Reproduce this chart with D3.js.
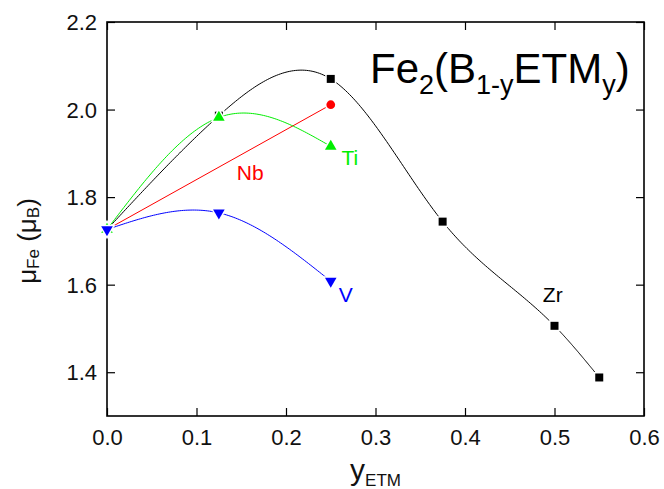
<!DOCTYPE html>
<html>
<head>
<meta charset="utf-8">
<script src="https://cdn.jsdelivr.net/npm/d3@7"></script>
<style>
  html, body { margin: 0; padding: 0; background: #fff; }
  svg { display: block; }
  text { font-family: "Liberation Sans", Arial, Helvetica, sans-serif; }
</style>
</head>
<body>
<div id="chart"></div>
<script>
// ---------------- data ----------------
const zrX = [0, 0.125, 0.25, 0.375, 0.5, 0.55];
const zrY = [1.726, 1.986, 2.070, 1.744, 1.506, 1.388];
const nbX = [0, 0.25];
const nbY = [1.726, 2.011];
const tiX = [0, 0.125, 0.25];
const tiY = [1.726, 1.982, 1.916];
const vX  = [0, 0.125, 0.25];
const vY  = [1.726, 1.764, 1.608];

const xTicksMajor = [0, 0.1, 0.2, 0.3, 0.4, 0.5, 0.6];
const xTicksMinor = [0.05, 0.15, 0.25, 0.35, 0.45, 0.55];
const yTicksMajor = [1.4, 1.6, 1.8, 2.0, 2.2];
const yTicksMinor = [1.3, 1.5, 1.7, 1.9, 2.1];

const seriesNames = ["Zr", "Nb", "Ti", "V"];
// label anchors in data units
const labelX = [0.487, 0.145, 0.262, 0.259];
const labelY = [1.560, 1.839, 1.873, 1.561];

// ---------------- layout ----------------
const W = 664, H = 489;
const margin = {left: 107, right: 20, top: 22, bottom: 73};
const x = d3.scaleLinear().domain([0, 0.6]).range([margin.left, W - margin.right]);
const y = d3.scaleLinear().domain([1.3, 2.2]).range([H - margin.bottom, margin.top]);

const svg = d3.select("#chart").append("svg").attr("width", W).attr("height", H);
svg.append("rect").attr("width", W).attr("height", H).attr("fill", "#fff");

// natural cubic spline y(x)
function splinePoints(xs, ys, perSeg) {
  const n = xs.length;
  if (n < 3) return xs.map((v, i) => [v, ys[i]]);
  const h = [], M = new Array(n).fill(0);
  for (let i = 0; i < n - 1; i++) h.push(xs[i + 1] - xs[i]);
  const a = [], b = [], c = [], d = [];
  for (let i = 1; i < n - 1; i++) {
    a.push(h[i - 1]); b.push(2 * (h[i - 1] + h[i])); c.push(h[i]);
    d.push(6 * ((ys[i + 1] - ys[i]) / h[i] - (ys[i] - ys[i - 1]) / h[i - 1]));
  }
  const m = d.length;
  for (let i = 1; i < m; i++) {
    const w = a[i] / b[i - 1];
    b[i] -= w * c[i - 1];
    d[i] -= w * d[i - 1];
  }
  const sol = new Array(m);
  sol[m - 1] = d[m - 1] / b[m - 1];
  for (let i = m - 2; i >= 0; i--) sol[i] = (d[i] - c[i] * sol[i + 1]) / b[i];
  for (let i = 0; i < m; i++) M[i + 1] = sol[i];
  const pts = [];
  for (let i = 0; i < n - 1; i++) {
    for (let k = 0; k < perSeg; k++) {
      const t = xs[i] + (h[i] * k) / perSeg;
      const A = (xs[i + 1] - t) / h[i], B = (t - xs[i]) / h[i];
      const val = A * ys[i] + B * ys[i + 1] +
        ((A * A * A - A) * M[i] + (B * B * B - B) * M[i + 1]) * h[i] * h[i] / 6;
      pts.push([t, val]);
    }
  }
  pts.push([xs[n - 1], ys[n - 1]]);
  return pts;
}

const line = d3.line().x(d => x(d[0])).y(d => y(d[1]));

// ---------------- axes ----------------
const gx = svg.append("g").attr("transform", `translate(0,${y.range()[0]})`);
gx.call(d3.axisBottom(x).tickValues(xTicksMinor).tickSize(-5).tickFormat(""));
gx.call(d3.axisBottom(x).tickValues(xTicksMajor).tickSizeInner(-8).tickSizeOuter(0)
  .tickPadding(13).tickFormat(d3.format(".1f")));
const gxt = svg.append("g").attr("transform", `translate(0,${y.range()[1]})`);
gxt.call(d3.axisTop(x).tickValues(xTicksMinor).tickSize(-5).tickFormat(""));
gxt.call(d3.axisTop(x).tickValues(xTicksMajor).tickSize(-8).tickFormat(""));

const gy = svg.append("g").attr("transform", `translate(${x.range()[0]},0)`);
gy.call(d3.axisLeft(y).tickValues(yTicksMinor).tickSize(-5).tickFormat(""));
gy.call(d3.axisLeft(y).tickValues(yTicksMajor).tickSizeInner(-8).tickSizeOuter(0)
  .tickPadding(10).tickFormat(d3.format(".1f")));
const gyr = svg.append("g").attr("transform", `translate(${x.range()[1]},0)`);
gyr.call(d3.axisRight(y).tickValues(yTicksMinor).tickSize(-5).tickFormat(""));
gyr.call(d3.axisRight(y).tickValues(yTicksMajor).tickSize(-8).tickFormat(""));

svg.selectAll(".domain").remove();
svg.selectAll(".tick line").attr("stroke", "#000").attr("stroke-width", 1.2);
svg.selectAll(".tick text").attr("font-size", 22).attr("fill", "#111")
  .style("font-family", '"Liberation Sans", Arial, sans-serif');
gy.selectAll(".tick text").attr("dy", "0.35em");

svg.append("rect")
  .attr("x", x.range()[0]).attr("y", y.range()[1])
  .attr("width", x.range()[1] - x.range()[0]).attr("height", y.range()[0] - y.range()[1])
  .attr("fill", "none").attr("stroke", "#000").attr("stroke-width", 1.6);

// ---------------- series ----------------
const series = [
  {xs: zrX, ys: zrY, color: "#000000", sym: "square"},
  {xs: nbX, ys: nbY, color: "#ff0000", sym: "circle"},
  {xs: tiX, ys: tiY, color: "#00ee00", sym: "up"},
  {xs: vX,  ys: vY,  color: "#0000ff", sym: "down"}
];

function markerPath(sym) {
  if (sym === "square") return d3.symbol(d3.symbolSquare, 64)();
  if (sym === "circle") return d3.symbol(d3.symbolCircle, 60)();
  return d3.symbol(d3.symbolTriangle, 58)();
}

series.forEach(s => {
  svg.append("path")
    .attr("d", line(splinePoints(s.xs, s.ys, 60)))
    .attr("fill", "none").attr("stroke", s.color).attr("stroke-width", 1);
  const pts = s.xs.map((v, i) => [v, s.ys[i]]);
  const g = svg.append("g");
  g.selectAll("path").data(pts).enter().append("path")
    .attr("d", markerPath(s.sym))
    .attr("transform", d => `translate(${x(d[0])},${y(d[1])})` + (s.sym === "down" ? " rotate(180)" : ""))
    .attr("fill", s.color)
    .attr("stroke", "#fff").attr("stroke-width", 3)
    .attr("paint-order", "stroke");
});

// series labels
seriesNames.forEach((nm, i) => {
  svg.append("text")
    .attr("x", x(labelX[i])).attr("y", y(labelY[i]))
    .attr("font-size", 21).attr("fill", series[i].color)
    .text(nm);
});

// title
const title = svg.append("text").attr("x", 370).attr("y", 83).attr("font-size", 42).attr("fill", "#000");
title.append("tspan").text("Fe");
title.append("tspan").attr("font-size", 27).attr("dy", 11).text("2");
title.append("tspan").attr("dy", -11).text("(B");
title.append("tspan").attr("font-size", 27).attr("dy", 11).text("1-y");
title.append("tspan").attr("dy", -11).text("ETM");
title.append("tspan").attr("font-size", 27).attr("dy", 11).text("y");
title.append("tspan").attr("dy", -11).text(")");

// x-axis title
const xt = svg.append("text")
  .attr("x", (x.range()[0] + x.range()[1]) / 2).attr("y", 480)
  .attr("text-anchor", "middle").attr("font-size", 30).attr("fill", "#111");
xt.append("tspan").text("y");
xt.append("tspan").attr("font-size", 17).attr("dy", 6).text("ETM");

// y-axis title
const yt = svg.append("text")
  .attr("transform", `translate(36,241) rotate(-90)`)
  .attr("text-anchor", "middle").attr("font-size", 26).attr("fill", "#111");
yt.append("tspan").text("μ");
yt.append("tspan").attr("font-size", 17).attr("dy", 3).text("Fe");
yt.append("tspan").attr("dy", -3).text(" (μ");
yt.append("tspan").attr("font-size", 17).attr("dy", 3).text("B");
yt.append("tspan").attr("dy", -3).text(")");
</script>
</body>
</html>
